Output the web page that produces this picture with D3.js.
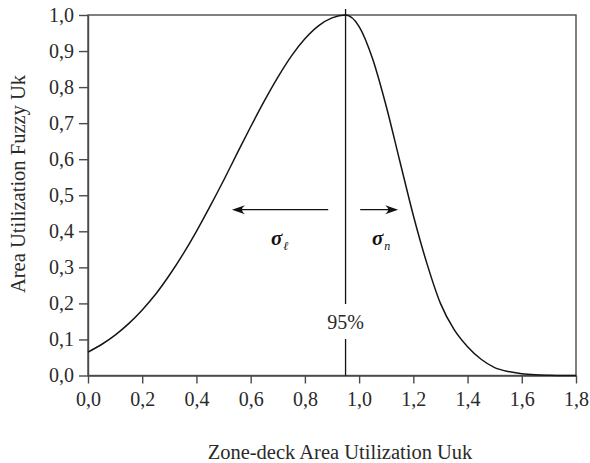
<!DOCTYPE html>
<html><head><meta charset="utf-8">
<script src="https://cdn.jsdelivr.net/npm/d3@7"></script>
<style>body{margin:0;background:#fff}</style>
</head><body>
<script>
const xValues = [0,0.05,0.1,0.15,0.2,0.25,0.3,0.35,0.4,0.45,0.5,0.55,0.6,0.65,0.7,0.75,0.8,0.85,0.9,0.95,1.0,1.05,1.1,1.15,1.2,1.25,1.3,1.35,1.4,1.45,1.5,1.55,1.6,1.65,1.7,1.75,1.8];
const yValues = [0.065,0.086,0.112,0.144,0.182,0.226,0.278,0.336,0.400,0.469,0.541,0.616,0.690,0.761,0.827,0.886,0.934,0.970,0.992,1.0,0.968,0.878,0.747,0.595,0.444,0.311,0.200,0.128,0.080,0.045,0.022,0.011,0.005,0.002,0.0007,0,0];
const xTicks = [0,0.2,0.4,0.6,0.8,1.0,1.2,1.4,1.6,1.8];
const xTickLabels = ["0,0","0,2","0,4","0,6","0,8","1,0","1,2","1,4","1,6","1,8"];
const yTicks = [0,0.1,0.2,0.3,0.4,0.5,0.6,0.7,0.8,0.9,1.0];
const yTickLabels = ["0,0","0,1","0,2","0,3","0,4","0,5","0,6","0,7","0,8","0,9","1,0"];
const peakX = 0.95;
const peakLabel = "95%";
const arrowY = 0.46;
const leftArrow = [0.886, 0.531];
const rightArrow = [1.004, 1.144];
const xTitle = "Zone-deck Area Utilization Uuk";
const yTitle = "Area Utilization Fuzzy Uk";

const W = 590, H = 463;
const m = {l:88, t:15, r:14, b:87.5};
const font = "'Liberation Serif','Times New Roman',serif";
const svg = d3.select("body").append("svg").attr("width",W).attr("height",H)
  .style("font-family",font);
const x = d3.scaleLinear().domain([0,1.8]).range([m.l, W-m.r]);
const y = d3.scaleLinear().domain([0,1]).range([H-m.b, m.t]);
const axisColor = "#4a4a4a";

// frame
svg.append("rect").attr("x",x(0)).attr("y",y(1)).attr("width",x(1.8)-x(0)).attr("height",y(0)-y(1))
  .attr("fill","none").attr("stroke",axisColor).attr("stroke-width",1.4);

const xa = svg.append("g").attr("transform",`translate(0,${y(0)})`)
  .call(d3.axisBottom(x).tickValues(xTicks).tickFormat((d,i)=>xTickLabels[i]).tickSizeInner(8).tickSizeOuter(0).tickPadding(8));
const ya = svg.append("g").attr("transform",`translate(${x(0)},0)`)
  .call(d3.axisLeft(y).tickValues(yTicks).tickFormat((d,i)=>yTickLabels[i]).tickSizeInner(9).tickSizeOuter(0).tickPadding(5));
[xa,ya].forEach(g=>{
  g.attr("font-family",font).attr("font-size",20);
  g.select(".domain").attr("stroke",axisColor).attr("stroke-width",1.4);
  g.selectAll(".tick line").attr("stroke",axisColor).attr("stroke-width",1.4);
  g.selectAll(".tick text").attr("fill","#2a2a2a");
});

// curve
const pts = xValues.map((v,i)=>[v,yValues[i]]);
svg.append("path").datum(pts)
  .attr("d", d3.line().x(d=>x(d[0])).y(d=>y(d[1])).curve(d3.curveMonotoneX))
  .attr("fill","none").attr("stroke","#151515").attr("stroke-width",1.5);

// vertical line with gap for label
const gapTop = 304, gapBot = 339;
svg.append("line").attr("x1",x(peakX)).attr("x2",x(peakX)).attr("y1",y(1)-6).attr("y2",gapTop)
  .attr("stroke","#111").attr("stroke-width",1.3);
svg.append("line").attr("x1",x(peakX)).attr("x2",x(peakX)).attr("y1",gapBot).attr("y2",y(0))
  .attr("stroke","#111").attr("stroke-width",1.3);
svg.append("text").attr("x",x(peakX)).attr("y",328.5).attr("text-anchor","middle")
  .style("font-size","20px").attr("fill","#2a2a2a").text(peakLabel);

// arrows
function arrow(x0,x1){
  const X0=x(x0), X1=x(x1), Y=y(arrowY);
  const dir = X1>X0?1:-1;
  svg.append("line").attr("x1",X0).attr("x2",X1-dir*6).attr("y1",Y).attr("y2",Y)
    .attr("stroke","#111").attr("stroke-width",1.4);
  const L=13, hw=4.5;
  svg.append("path").attr("d",`M${X1},${Y} L${X1-dir*L},${Y-hw} Q${X1-dir*L*0.55},${Y} ${X1-dir*L},${Y+hw} Z`)
    .attr("fill","#111");
}
arrow(leftArrow[0],leftArrow[1]);
arrow(rightArrow[0],rightArrow[1]);

// sigma labels
function sig(px, sub){
  const t = svg.append("text").attr("x",px).attr("y",245).attr("fill","#111");
  t.append("tspan").style("font-size","21px").style("font-weight","bold").style("font-style","italic").text("σ");
  t.append("tspan").attr("dy",5).attr("dx",1).style("font-size","12px").style("font-style","italic").text(sub);
}
sig(271,"ℓ");
sig(372,"n");

// titles
svg.append("text").attr("x",340).attr("y",459).attr("text-anchor","middle")
  .style("font-size","20.5px").attr("fill","#2a2a2a").text(xTitle);
svg.append("text").attr("transform",`translate(25,184) rotate(-90)`).attr("text-anchor","middle")
  .style("font-size","20.5px").attr("fill","#2a2a2a").text(yTitle);
</script>
</body></html>
